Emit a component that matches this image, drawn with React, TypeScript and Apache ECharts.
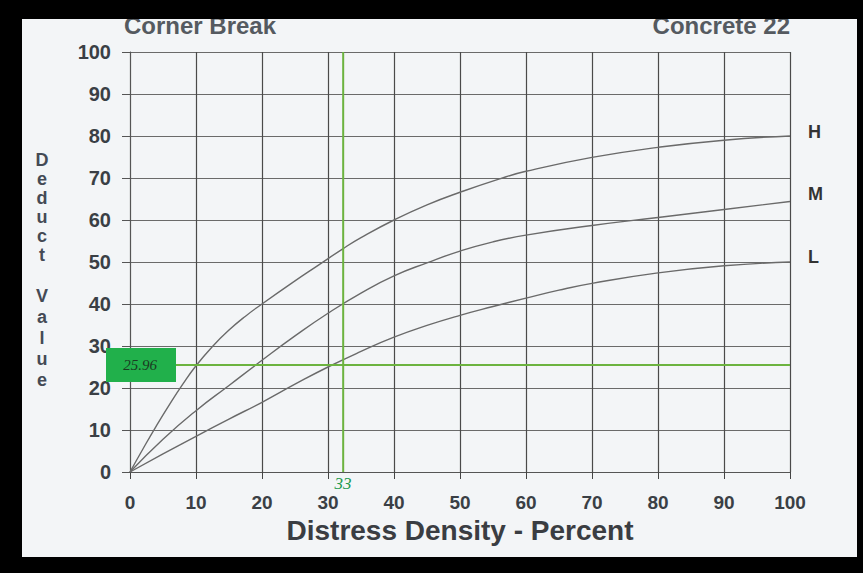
import React, { useEffect, useRef } from "react";
import * as echarts from "echarts";

const xTicks = [0, 10, 20, 30, 40, 50, 60, 70, 80, 90, 100];
const curveNames = ["H", "M", "L"];
const highCurve: number[][] = [
  [0, 0], [2, 5.6], [4, 11], [6, 16.1], [8, 20.9], [10, 25.3], [12.5, 29.9],
  [15, 33.8], [17.5, 37.1], [20, 40], [25, 45.5], [28.5, 49.2], [32.3, 53.2],
  [35, 55.8], [40, 60], [45, 63.6], [50, 66.6], [56, 69.8], [60, 71.6],
  [70, 74.9], [80, 77.3], [90, 79], [100, 80],
];
const mediumCurve: number[][] = [
  [0, 0], [5, 7.8], [10, 14.6], [15, 20.6], [20, 26.6], [25, 32.4], [30, 37.8],
  [35, 42.6], [40, 46.7], [45, 49.8], [50, 52.6], [55, 54.8], [60, 56.4],
  [70, 58.7], [80, 60.6], [90, 62.5], [100, 64.4],
];
const lowCurve: number[][] = [
  [0, 0], [5, 4.3], [10, 8.5], [15, 12.6], [20, 16.6], [25, 20.9], [30, 25],
  [35, 28.7], [40, 32.1], [45, 34.9], [50, 37.3], [55, 39.4], [60, 41.4],
  [65, 43.3], [70, 44.9], [80, 47.4], [90, 49.1], [100, 50],
];
const crossX = 32.3;
const crossY = 25.5;
const crossXLabel = "33";
const crossYLabel = "25.96";

export default function App() {
  const ref = useRef<HTMLDivElement>(null);
  useEffect(() => {
    if (!ref.current) return;
    const chart = echarts.init(ref.current, null, { renderer: "svg" });
    const sans = "'Liberation Sans', Arial, sans-serif";
    const serif = "'Liberation Serif', 'Times New Roman', serif";
    const curveStyle = (data: number[][], name: string, dy: number) => ({
      type: "line",
      name,
      data,
      smooth: 0.5,
      symbol: "none",
      lineStyle: { color: "#6a6a6a", width: 1.4 },
      z: 3,
      endLabel: {
        show: true,
        formatter: name,
        offset: [10, dy],
        fontFamily: sans,
        fontWeight: "bold",
        fontSize: 18,
        color: "#333",
      },
    });
    chart.setOption({
      animation: false,
      backgroundColor: "#000",
      grid: { left: 130, right: 73, top: 52, bottom: 101 },
      xAxis: {
        type: "value",
        min: 0,
        max: 100,
        interval: 10,
        name: "Distress Density - Percent",
        nameLocation: "middle",
        nameGap: 43,
        nameTextStyle: { fontFamily: sans, fontWeight: "bold", fontSize: 28, color: "#3a3d42" },
        axisLine: { show: true, lineStyle: { color: "#555", width: 1 } },
        axisTick: { show: true, length: 7, lineStyle: { color: "#444" } },
        splitLine: { show: true, lineStyle: { color: "#4a4a4a", width: 1.2 } },
        axisLabel: {
          margin: 21,
          fontFamily: sans,
          fontWeight: "bold",
          fontSize: 19,
          color: "#3a3f45",
          customValues: xTicks,
        },
      },
      yAxis: {
        type: "value",
        min: 0,
        max: 100,
        interval: 10,
        axisLine: { show: true, lineStyle: { color: "#555", width: 1 } },
        axisTick: { show: true, length: 8, lineStyle: { color: "#555" } },
        splitLine: { show: true, lineStyle: { color: "#6a6a6a", width: 1.2 } },
        axisLabel: {
          margin: 19,
          fontFamily: sans,
          fontWeight: "bold",
          fontSize: 20,
          color: "#3a3f45",
        },
      },
      series: [
        curveStyle(highCurve, curveNames[0], -4),
        curveStyle(mediumCurve, curveNames[1], -8),
        curveStyle(lowCurve, curveNames[2], -5),
        {
          type: "line",
          data: [[crossX, 0], [crossX, 100]],
          symbol: "none",
          lineStyle: { color: "#6cb33f", width: 2 },
          z: 5,
        },
        {
          type: "line",
          data: [[0, crossY], [100, crossY]],
          symbol: "none",
          lineStyle: { color: "#6cb33f", width: 2 },
          z: 5,
        },
      ],
      graphic: [
        { type: "rect", z: -100, shape: { x: 22, y: 19, width: 835, height: 538 }, style: { fill: "#f3f5f7" } },
        { type: "text", z: 10, x: 124, y: 13, style: { text: "Corner Break", fontFamily: sans, fontWeight: "bold", fontSize: 24, fill: "#555a60" } },
        { type: "text", z: 10, x: 790, y: 13, style: { text: "Concrete 22", align: "right", fontFamily: sans, fontWeight: "bold", fontSize: 24, fill: "#555a60" } },
        { type: "rect", z: 20, shape: { x: 0, y: 0, width: 863, height: 19 }, style: { fill: "#000" } },
        { type: "text", z: 10, x: 42, y: 150, style: { text: "D\ne\nd\nu\nc\nt", align: "center", lineHeight: 19, fontFamily: sans, fontWeight: "bold", fontSize: 18, fill: "#444a55" } },
        { type: "text", z: 10, x: 42, y: 285, style: { text: "V\na\nl\nu\ne", align: "center", lineHeight: 21, fontFamily: sans, fontWeight: "bold", fontSize: 18, fill: "#444a55" } },
        { type: "rect", z: 50, shape: { x: 106, y: 348, width: 70, height: 34 }, style: { fill: "#21b04b" } },
        { type: "text", z: 51, x: 140, y: 365, style: { text: crossYLabel, align: "center", verticalAlign: "middle", fontFamily: serif, fontStyle: "italic", fontSize: 15, fill: "#1b3a22" } },
        { type: "text", z: 51, x: 343, y: 483, style: { text: crossXLabel, align: "center", verticalAlign: "middle", fontFamily: serif, fontStyle: "italic", fontSize: 17, fill: "#239a50" } },
      ],
    });
    return () => chart.dispose();
  }, []);
  return (
    <div style={{ position: "fixed", left: 0, top: 0, width: 863, height: 573 }}>
      <div ref={ref} style={{ width: 863, height: 573 }} />
    </div>
  );
}
